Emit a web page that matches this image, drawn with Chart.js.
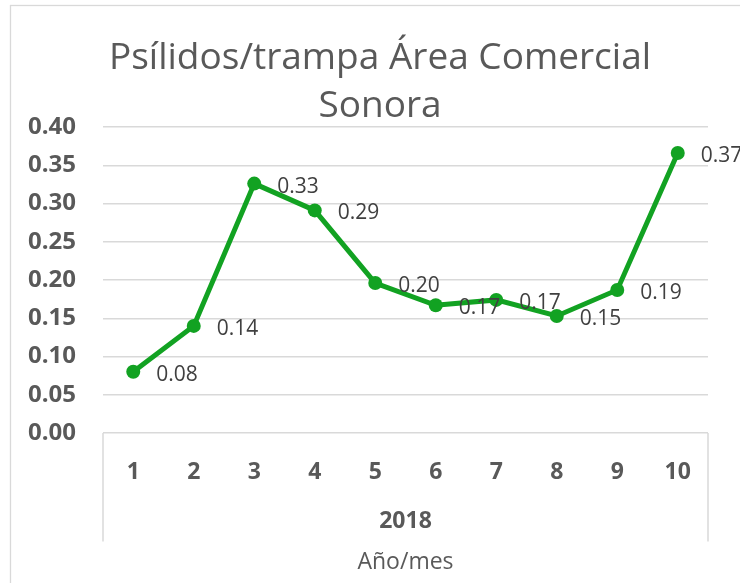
<!DOCTYPE html>
<html>
<head>
<meta charset="utf-8">
<script src="https://cdn.jsdelivr.net/npm/chart.js"></script>
<style>
  html, body { margin: 0; padding: 0; background: #fff; }
  #wrap { width: 740px; height: 583px; }
</style>
</head>
<body>
<div id="wrap"><canvas id="chart" width="740" height="583"></canvas></div>
<script>
const months = ['1', '2', '3', '4', '5', '6', '7', '8', '9', '10'];
const psilidos = [0.08, 0.14, 0.326, 0.291, 0.196, 0.167, 0.174, 0.153, 0.187, 0.366];
const yearLabel = '2018';
const axisName = 'Año/mes';
const titleLines = ['Psílidos/trampa Área Comercial', 'Sonora'];

const green = '#12a222';
const gridColor = '#d9d9d9';
const font = '"Open Sans", sans-serif';

// outer frame, group box lines under the axis, value labels
const decor = {
    id: 'decor',
    beforeDraw(chart) {
        const ctx = chart.ctx;
        ctx.save();
        ctx.strokeStyle = gridColor;
        ctx.lineWidth = 1.3;
        ctx.strokeRect(10.5, 5.5, 760, 620);
        ctx.restore();
    },
    afterDraw(chart) {
        const ctx = chart.ctx;
        const area = chart.chartArea;
        const x = chart.scales.x;
        ctx.save();
        ctx.strokeStyle = gridColor;
        ctx.lineWidth = 1.5;
        ctx.beginPath();
        ctx.moveTo(area.left, area.bottom);
        ctx.lineTo(area.left, x.bottom - 7);
        ctx.moveTo(area.right, area.bottom);
        ctx.lineTo(area.right, x.bottom - 7);
        ctx.stroke();

        const meta = chart.getDatasetMeta(0);
        ctx.fillStyle = '#404040';
        ctx.font = '21px ' + font;
        ctx.textAlign = 'left';
        ctx.textBaseline = 'middle';
        meta.data.forEach(function (pt, i) {
            ctx.fillText(psilidos[i].toFixed(2), pt.x + 23, pt.y + 3);
        });
        ctx.restore();
    }
};

new Chart(document.getElementById('chart'), {
    type: 'line',
    data: {
        labels: months,
        datasets: [{
            data: psilidos,
            borderColor: green,
            backgroundColor: green,
            borderWidth: 5,
            pointRadius: 7,
            pointHoverRadius: 7,
            pointBorderWidth: 0,
            tension: 0
        }]
    },
    options: {
        responsive: false,
        animation: false,
        layout: { padding: { top: 34, left: 20, right: 0, bottom: 7 } },
        scales: {
            x: {
                offset: true,
                grid: { display: false, drawTicks: false },
                border: { display: false },
                ticks: {
                    padding: 26,
                    color: '#595959',
                    font: { family: font, size: 23, weight: 'bold' }
                },
                title: {
                    display: true,
                    text: yearLabel,
                    color: '#595959',
                    font: { family: font, size: 23, weight: 'bold' },
                    padding: { top: -5.4, bottom: 13.6 }
                }
            },
            x2: {
                type: 'category',
                position: 'bottom',
                labels: months,
                offset: true,
                grid: { display: false, drawTicks: false },
                border: { display: false },
                ticks: { display: false },
                title: {
                    display: true,
                    text: axisName,
                    color: '#595959',
                    font: { family: font, size: 23, weight: 'normal' },
                    padding: 0
                }
            },
            y: {
                min: 0,
                max: 0.4,
                grid: { color: gridColor, lineWidth: 1.5, drawTicks: false },
                border: { display: false },
                afterFit: function (scale) { scale.width = 83; },
                ticks: {
                    stepSize: 0.05,
                    padding: 27,
                    color: '#595959',
                    font: { family: font, size: 24, weight: 'bold' },
                    callback: function (v) { return v.toFixed(2); }
                }
            },
            yRight: {
                type: 'linear',
                position: 'right',
                grid: { display: false, drawTicks: false },
                border: { display: false },
                ticks: { display: false },
                afterFit: function (scale) { scale.width = 32; }
            }
        },
        plugins: {
            legend: { display: false },
            tooltip: { enabled: false },
            title: {
                display: true,
                text: titleLines,
                color: '#595959',
                font: { family: font, size: 37, weight: 'normal', lineHeight: 48 / 37 },
                padding: { top: 0, bottom: -3 }
            }
        }
    },
    plugins: [decor]
});
</script>
</body>
</html>
